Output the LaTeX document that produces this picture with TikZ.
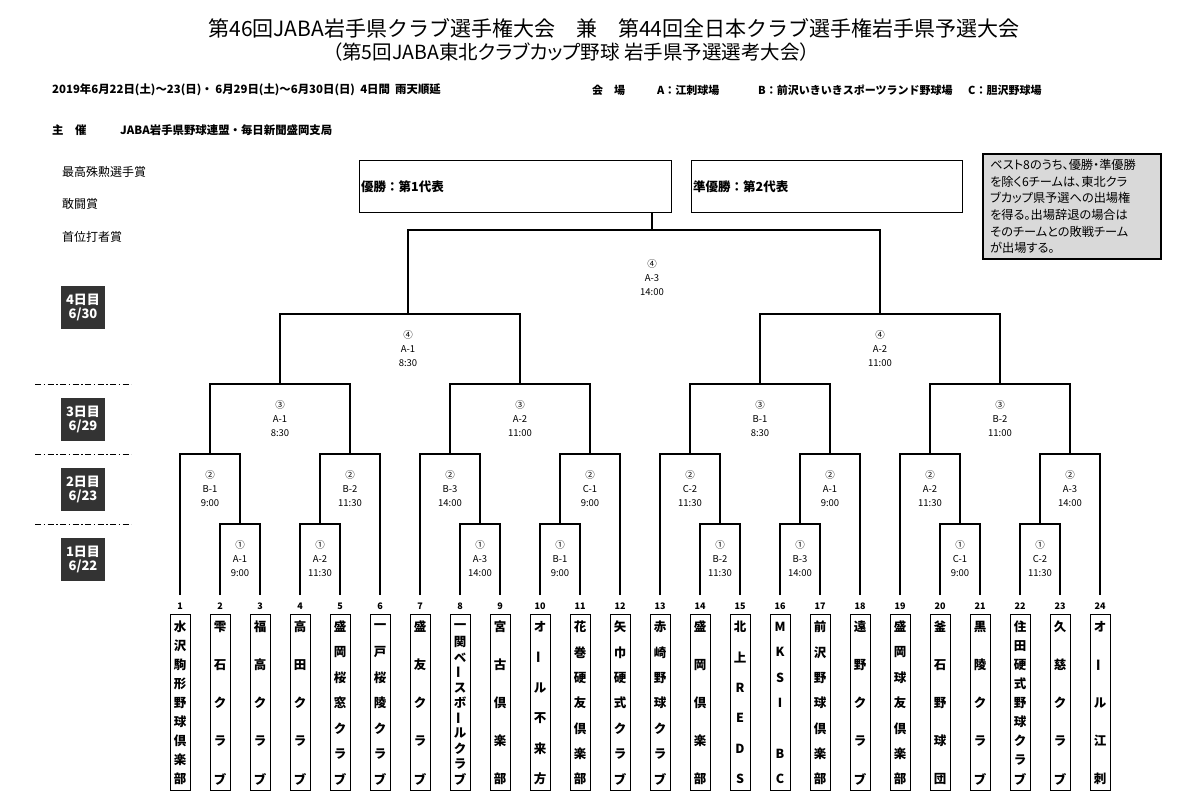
\documentclass[tikz,border=0pt]{standalone}
\usepackage{fontspec}
\newfontfamily\jp{Noto Sans CJK JP}
\newfontfamily\jpp{Noto Sans CJK JP}[RawFeature=+palt]
\definecolor{dayg}{HTML}{333333}
\definecolor{noteg}{HTML}{D9D9D9}
\newcommand\longvow{\rotatebox[origin=c]{90}{ー}}
% name, xl, xr, ytop, y bottom left, y bottom right, label position, label text
\newcommand\mymatch[8]{%
  \draw[br] (#2,#5) -- (#2,#4) -- (#3,#4) -- (#3,#6);
  \coordinate (#1) at ({(#2+#3)/2},#4);
  \node[lbl] (#1l) at #7 {#8};
}
\begin{document}
\begin{tikzpicture}[x=1pt,y=-1pt,
  br/.style={line width=1.1pt},
  lbl/.style={font=\jp\fontsize{9.5}{14}\selectfont, align=center, inner sep=0pt},
  tbox/.style={draw, line width=1pt, minimum width=20pt, minimum height=176pt, inner sep=0pt},
  tch/.style={font=\jp\bfseries\fontsize{12.5}{12.5}\selectfont, inner sep=0pt},
  num/.style={font=\jp\bfseries\fontsize{9}{9}\selectfont, inner sep=0pt},
  daybox/.style={fill=dayg, minimum width=44pt, minimum height=43pt, text=white, font=\jp\bfseries\fontsize{13}{14}\selectfont, align=center, inner sep=0pt},
  dd/.style={line width=0.8pt, dash pattern=on 6pt off 2.5pt on 1.5pt off 2.5pt},
  txt/.style={inner sep=0pt, anchor=west},
  info/.style={txt, font=\jp\bfseries\fontsize{11.4}{11.4}\selectfont},
  venue/.style={txt, font=\jp\bfseries\fontsize{11}{11}\selectfont},
  award/.style={txt, font=\jp\fontsize{12}{12}\selectfont},
  topbox/.style={draw, line width=1pt, minimum height=52pt, anchor=north west, inner sep=0pt},
  toptxt/.style={txt, font=\jp\bfseries\fontsize{12.5}{12.5}\selectfont},
  notetxt/.style={txt, font=\jpp\fontsize{12.2}{12.2}\selectfont},
]
\fill[white] (0,0) rectangle (1181,805);
\useasboundingbox (0,0) rectangle (1181,805);

% titles
\node[inner sep=0pt, font=\jp\fontsize{21}{21}\selectfont] (title1) at (614,28) {第46回JABA岩手県クラブ選手権大会　兼　第44回全日本クラブ選手権岩手県予選大会};
\node[inner sep=0pt, font=\jpp\fontsize{19.5}{19.5}\selectfont] (title2) at (571,52) {（第5回JABA東北クラブカップ野球 岩手県予選選考大会）};

% info lines
\node[info] (date) at (52,90) {2019年6月22日(土)～23(日)・ 6月29日(土)～6月30日(日)\ \ 4日間\ \ 雨天順延};
\node[venue] (kaijo) at (592,90) {会　場};
\node[venue] (venA) at (657,90) {A：江刺球場};
\node[venue] (venB) at (758,90) {B：前沢いきいきスポーツランド野球場};
\node[venue] (venC) at (968,90) {C：胆沢野球場};
\node[info] (shu) at (52,130) {主　催};
\node[info] (shuv) at (120,130) {JABA岩手県野球連盟・毎日新聞盛岡支局};

% awards
\node[award] (aw1) at (62,172) {最高殊勲選手賞};
\node[award] (aw2) at (62,204) {敢闘賞};
\node[award] (aw3) at (62,237) {首位打者賞};

% day labels
\node[daybox] (d4) at (83,307) {4日目\\6/30};
\node[daybox] (d3) at (83,419.5) {3日目\\6/29};
\node[daybox] (d2) at (83,489.5) {2日目\\6/23};
\node[daybox] (d1) at (83,559.5) {1日目\\6/22};
\foreach \yy [count=\k] in {384,454,524} {
  \coordinate (dl\k) at (35,\yy);
  \coordinate (dr\k) at (131,\yy);
  \draw[dd] (dl\k) -- (dr\k);
}

% top boxes
\node[topbox, minimum width=312pt] (win) at (359,160) {};
\node[toptxt] (wint) at (361,187) {優勝：第1代表};
\node[topbox, minimum width=271pt] (sec) at (691,160) {};
\node[toptxt] (sect) at (693,187) {準優勝：第2代表};

% note
\node[draw, line width=2pt, fill=noteg, minimum width=178pt, minimum height=105pt, anchor=north west, inner sep=0pt] (note) at (982,153) {};
\foreach \t [count=\k from 0] in {ベスト8のうち、優勝・準優勝, を除く6チームは、東北クラ, ブカップ県予選への出場権, を得る。出場辞退の場合は, そのチームとの敗戦チーム, が出場する。} {
  \node[notetxt] (note\k) at (990,{165+\k*16.6}) {\t};
}

% bracket: round 1
\mymatch{a1}{220}{260}{524}{595}{595}{(240,559)}{①\\A-1\\9:00}
\mymatch{a2}{300}{340}{524}{595}{595}{(320,559)}{①\\A-2\\11:30}
\mymatch{a3}{460}{500}{524}{595}{595}{(480,559)}{①\\A-3\\14:00}
\mymatch{a4}{540}{580}{524}{595}{595}{(560,559)}{①\\B-1\\9:00}
\mymatch{a5}{700}{740}{524}{595}{595}{(720,559)}{①\\B-2\\11:30}
\mymatch{a6}{780}{820}{524}{595}{595}{(800,559)}{①\\B-3\\14:00}
\mymatch{a7}{940}{980}{524}{595}{595}{(960,559)}{①\\C-1\\9:00}
\mymatch{a8}{1020}{1060}{524}{595}{595}{(1040,559)}{①\\C-2\\11:30}
% round 2
\mymatch{b1}{180}{240}{454}{595}{524}{(210,489)}{②\\B-1\\9:00}
\mymatch{b2}{320}{380}{454}{524}{595}{(350,489)}{②\\B-2\\11:30}
\mymatch{b3}{420}{480}{454}{595}{524}{(450,489)}{②\\B-3\\14:00}
\mymatch{b4}{560}{620}{454}{524}{595}{(590,489)}{②\\C-1\\9:00}
\mymatch{b5}{660}{720}{454}{595}{524}{(690,489)}{②\\C-2\\11:30}
\mymatch{b6}{800}{860}{454}{524}{595}{(830,489)}{②\\A-1\\9:00}
\mymatch{b7}{900}{960}{454}{595}{524}{(930,489)}{②\\A-2\\11:30}
\mymatch{b8}{1040}{1100}{454}{524}{595}{(1070,489)}{②\\A-3\\14:00}
% round 3
\mymatch{c1}{210}{350}{384}{454}{454}{(280,419)}{③\\A-1\\8:30}
\mymatch{c2}{450}{590}{384}{454}{454}{(520,419)}{③\\A-2\\11:00}
\mymatch{c3}{690}{830}{384}{454}{454}{(760,419)}{③\\B-1\\8:30}
\mymatch{c4}{930}{1070}{384}{454}{454}{(1000,419)}{③\\B-2\\11:00}
% semi finals
\mymatch{s1}{280}{520}{314}{384}{384}{(408,349)}{④\\A-1\\8:30}
\mymatch{s2}{760}{1000}{314}{384}{384}{(880,349)}{④\\A-2\\11:00}
% final
\mymatch{fin}{408}{880}{230}{314}{314}{(652,278)}{④\\A-3\\14:00}
\coordinate (fs) at (652,230);
\draw[br] (fs) -- (fs |- win.south);

% teams
\foreach \i/\n/\cs in {
 1/9/{水,沢,駒,形,野,球,倶,楽,部},
 2/5/{雫,石,ク,ラ,ブ},
 3/5/{福,高,ク,ラ,ブ},
 4/5/{高,田,ク,ラ,ブ},
 5/7/{盛,岡,桜,窓,ク,ラ,ブ},
 6/7/{一,戸,桜,陵,ク,ラ,ブ},
 7/5/{盛,友,ク,ラ,ブ},
 8/11/{一,関,ベ,\longvow,ス,ボ,\longvow,ル,ク,ラ,ブ},
 9/5/{宮,古,倶,楽,部},
 10/6/{オ,\longvow,ル,不,来,方},
 11/7/{花,巻,硬,友,倶,楽,部},
 12/7/{矢,巾,硬,式,ク,ラ,ブ},
 13/7/{赤,崎,野,球,ク,ラ,ブ},
 14/5/{盛,岡,倶,楽,部},
 15/6/{北,上,R,E,D,S},
 16/7/{M,K,S,I,{},B,C},
 17/7/{前,沢,野,球,倶,楽,部},
 18/5/{遠,野,ク,ラ,ブ},
 19/7/{盛,岡,球,友,倶,楽,部},
 20/5/{釜,石,野,球,団},
 21/5/{黒,陵,ク,ラ,ブ},
 22/9/{住,田,硬,式,野,球,ク,ラ,ブ},
 23/5/{久,慈,ク,ラ,ブ},
 24/5/{オ,\longvow,ル,江,刺}} {
  \node[tbox] (t\i) at ({140+40*\i},702) {};
  \node[num] (n\i) at ({140+40*\i},606) {\i};
  \foreach \c [count=\k from 0] in \cs {
    \node[tch] (t\i c\k) at ({140+40*\i},{627+\k*152/(\n-1)}) {\c};
  }
}
\end{tikzpicture}
\end{document}
